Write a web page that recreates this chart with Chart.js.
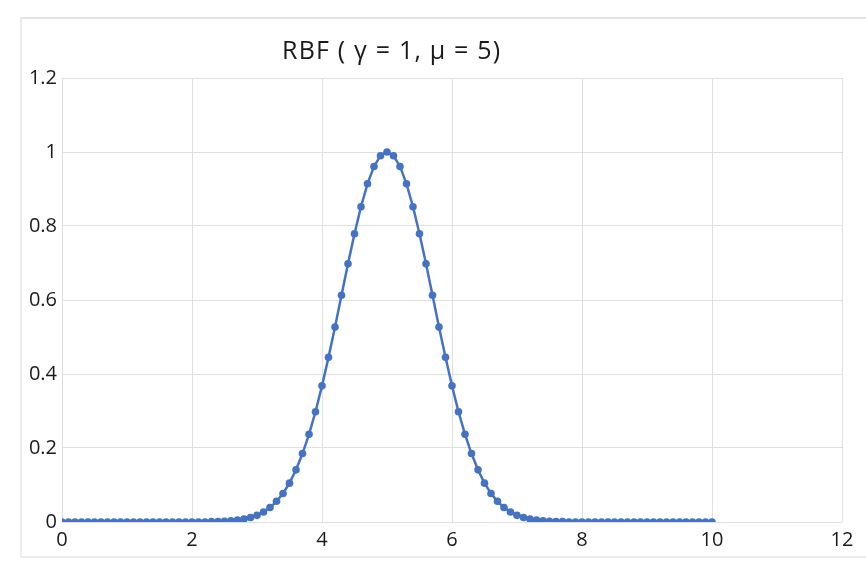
<!DOCTYPE html>
<html>
<head>
<meta charset="utf-8">
<script src="https://cdn.jsdelivr.net/npm/chart.js@4/dist/chart.umd.min.js"></script>
<style>
  html, body { margin: 0; padding: 0; background: #fff; }
  #wrap { position: relative; width: 866px; height: 563px; }
  #frame { position: absolute; left: 20px; top: 17px; width: 846px; height: 541px;
           border-top: 2px solid #e4e4e4; border-left: 2px solid #ececec; border-bottom: 2px solid #ececec; box-sizing: border-box; }
  #title { position: absolute; left: 282px; top: 32px; font: 25px "Open Sans", sans-serif; letter-spacing: 1.2px; color: #1a1a1a; white-space: nowrap; }
  canvas { position: absolute; left: 0; top: 0; }
</style>
</head>
<body>
<div id="wrap">
  <div id="frame"></div>
  <canvas id="chart" width="866" height="563"></canvas>
  <div id="title">RBF ( γ = 1, μ = 5)</div>
</div>
<script>
// x sampled every 0.1 from 0 to 10
const xValues = [
  0.0, 0.1, 0.2, 0.3, 0.4, 0.5, 0.6, 0.7, 0.8, 0.9,
  1.0, 1.1, 1.2, 1.3, 1.4, 1.5, 1.6, 1.7, 1.8, 1.9,
  2.0, 2.1, 2.2, 2.3, 2.4, 2.5, 2.6, 2.7, 2.8, 2.9,
  3.0, 3.1, 3.2, 3.3, 3.4, 3.5, 3.6, 3.7, 3.8, 3.9,
  4.0, 4.1, 4.2, 4.3, 4.4, 4.5, 4.6, 4.7, 4.8, 4.9,
  5.0, 5.1, 5.2, 5.3, 5.4, 5.5, 5.6, 5.7, 5.8, 5.9,
  6.0, 6.1, 6.2, 6.3, 6.4, 6.5, 6.6, 6.7, 6.8, 6.9,
  7.0, 7.1, 7.2, 7.3, 7.4, 7.5, 7.6, 7.7, 7.8, 7.9,
  8.0, 8.1, 8.2, 8.3, 8.4, 8.5, 8.6, 8.7, 8.8, 8.9,
  9.0, 9.1, 9.2, 9.3, 9.4, 9.5, 9.6, 9.7, 9.8, 9.9,
  10.0,
];

const rbfValues = [
  0, 0, 0, 0, 0, 0, 0, 0, 0, 0,
  0, 0, 0, 0, 0, 0, 0, 0, 0, 0,
  0, 0, 0, 0.001, 0.001, 0.002, 0.003, 0.005, 0.008, 0.012,
  0.018, 0.027, 0.039, 0.056, 0.077, 0.105, 0.141, 0.185, 0.237, 0.298,
  0.368, 0.445, 0.527, 0.613, 0.698, 0.779, 0.852, 0.914, 0.961, 0.990,
  1.000, 0.990, 0.961, 0.914, 0.852, 0.779, 0.698, 0.613, 0.527, 0.445,
  0.368, 0.298, 0.237, 0.185, 0.141, 0.105, 0.077, 0.056, 0.039, 0.027,
  0.018, 0.012, 0.008, 0.005, 0.003, 0.002, 0.001, 0.001, 0, 0,
  0, 0, 0, 0, 0, 0, 0, 0, 0, 0,
  0, 0, 0, 0, 0, 0, 0, 0, 0, 0,
  0,
];

const xTicks = [0, 2, 4, 6, 8, 10, 12];
const yTicks = [0, 0.2, 0.4, 0.6, 0.8, 1, 1.2];

const BLUE = "#4472c4";
const GRID = "#e0e0e0";
const TICK_FONT = { family: "Open Sans", size: 20 };

const points = xValues.map((x, i) => ({ x, y: rbfValues[i] }));

new Chart(document.getElementById("chart"), {
  type: "scatter",
  data: {
    datasets: [{
      data: points,
      showLine: true,
      borderColor: BLUE,
      borderWidth: 2.5,
      backgroundColor: BLUE,
      pointRadius: 3.8,
      pointBorderWidth: 0,
      pointBackgroundColor: BLUE,
    }],
  },
  options: {
    responsive: false,
    animation: false,
    layout: { padding: { top: 78, right: 24, bottom: 0, left: 0 } },
    plugins: { legend: { display: false }, tooltip: { enabled: false } },
    scales: {
      x: {
        type: "linear",
        min: 0,
        max: 12,
        afterBuildTicks: (s) => { s.ticks = xTicks.map((v) => ({ value: v })); },
        afterFit: (s) => { s.height = 41; },
        grid: { color: GRID, lineWidth: 1, drawTicks: false },
        border: { display: false },
        ticks: { color: "#1a1a1a", font: TICK_FONT, padding: 6, maxRotation: 0 },
      },
      y: {
        min: 0,
        max: 1.2,
        afterBuildTicks: (s) => { s.ticks = yTicks.map((v) => ({ value: v })); },
        afterFit: (s) => { s.width = 62; },
        grid: { color: GRID, lineWidth: 1, drawTicks: false },
        border: { display: false },
        ticks: { color: "#1a1a1a", font: TICK_FONT, padding: 5, callback: (v) => String(v) },
      },
    },
  },
});
</script>
</body>
</html>
